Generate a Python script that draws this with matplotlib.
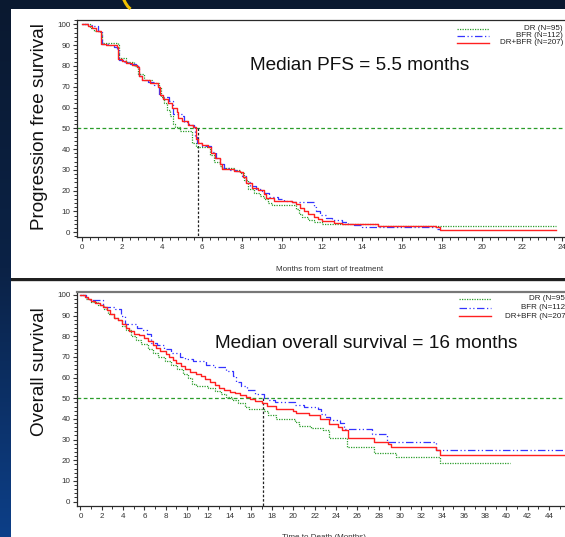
import numpy as np
import matplotlib
matplotlib.use("Agg")
import matplotlib.pyplot as plt
from matplotlib.ticker import MultipleLocator
from matplotlib.colors import LinearSegmentedColormap
from matplotlib.patches import Rectangle

plt.rcParams['font.family'] = ['Liberation Sans', 'DejaVu Sans']

# ---------------------------------------------------------------- data
# Kaplan-Meier step points (time in months, survival in %)
pfs_dr = [(0, 100), (0.4, 98), (0.6, 97), (0.9, 96), (1.0, 91), (1.8, 90), (1.85, 84),
          (2.2, 82), (2.6, 80), (2.8, 76), (3.1, 73), (3.5, 72), (3.85, 70), (3.95, 65),
          (4.1, 62), (4.25, 59), (4.4, 56), (4.55, 52), (4.65, 50.5), (4.9, 48.5),
          (5.5, 43), (5.7, 41), (6.4, 37), (6.6, 34), (6.9, 32), (7.0, 31), (7.6, 30),
          (7.9, 28.5), (8.1, 25), (8.3, 21), (8.6, 19), (8.9, 17.5), (9.1, 16), (9.3, 14),
          (9.5, 13), (10.7, 11), (10.85, 9), (11.0, 7.5), (11.3, 6), (11.6, 5), (12.0, 4),
          (14.8, 3), (23.7, 3)]
pfs_bfr = [(0, 100), (0.3, 99.5), (0.5, 99), (0.8, 97), (1.0, 90.5), (1.3, 90), (1.6, 89),
           (1.75, 88), (1.85, 83), (2.1, 82), (2.4, 81), (2.7, 80), (2.85, 75), (3.0, 73),
           (3.3, 72.5), (3.6, 71), (3.85, 66), (4.0, 65), (4.35, 63), (4.55, 57), (5.0, 56),
           (5.1, 53), (5.35, 51.5), (5.6, 50.5), (5.65, 46), (5.75, 43), (6.0, 41.5),
           (6.45, 38.5), (6.7, 35.5), (6.9, 33), (7.1, 31), (7.4, 30), (7.7, 29.5), (8.0, 27),
           (8.2, 24), (8.4, 22.5), (8.7, 21), (9.0, 20), (9.1, 19), (9.35, 17), (9.8, 16),
           (10.1, 15), (10.5, 14.5), (11.6, 12), (11.7, 10), (11.9, 8.5), (12.2, 7),
           (12.5, 6), (13.0, 5), (13.3, 4), (13.6, 3.5), (14.0, 2.5), (17.7, 1.5), (17.9, 1.5)]
pfs_all = [(0, 100), (0.3, 99), (0.5, 98), (0.7, 97), (0.95, 90.5), (1.2, 90), (1.75, 89),
           (1.8, 83.5), (2.0, 82.5), (2.2, 81.5), (2.5, 80.5), (2.75, 79.5), (2.85, 75),
           (3.0, 73), (3.4, 72), (3.8, 70), (3.9, 66), (4.05, 64), (4.3, 62), (4.5, 60),
           (4.75, 58), (4.8, 55), (5.0, 53.5), (5.3, 51.5), (5.55, 50.5), (5.7, 45),
           (5.8, 43), (6.0, 42), (6.3, 41), (6.45, 38), (6.65, 35.5), (6.9, 33), (7.0, 30.5),
           (7.6, 29.5), (7.9, 29), (8.05, 26.5), (8.2, 23.5), (8.5, 21.5), (8.8, 20.5),
           (9.1, 18.5), (9.2, 16.5), (9.6, 15), (10.5, 14.5), (10.7, 13.5), (10.9, 11.5),
           (11.1, 10), (11.3, 9), (11.6, 7.5), (11.8, 6.5), (12.0, 5.5), (12.6, 4.5),
           (13.0, 4), (14.8, 3), (17.7, 2.5), (17.9, 1), (23.7, 1)]

os_dr = [(0, 100), (0.5, 98), (1.0, 96.5), (1.6, 95), (2.2, 93), (2.6, 91), (3.1, 89),
         (3.5, 88), (3.9, 85), (4.3, 83), (4.7, 80), (5.2, 78), (5.7, 76.5), (6.3, 74),
         (6.8, 72), (7.3, 70), (7.9, 68), (8.5, 66), (9.1, 64), (9.6, 62), (10.1, 60),
         (10.5, 57), (10.8, 56), (12.0, 55), (12.6, 53.5), (13.2, 52), (13.7, 50.5),
         (14.2, 49), (14.8, 47.5), (15.4, 46), (15.8, 45), (17.2, 44), (17.6, 42),
         (18.4, 40), (20.1, 38.5), (20.5, 36.5), (21.6, 35.5), (22.8, 34.5), (23.3, 31),
         (25.0, 26.5), (27.6, 23.5), (29.6, 21.5), (33.8, 18.5), (40.3, 18.5)]
os_bfr = [(0, 100), (0.5, 98.5), (0.9, 97.5), (2.1, 94), (3.2, 93), (3.8, 90), (4.2, 86),
          (5.3, 84), (5.8, 83), (6.2, 81), (6.6, 77), (7.2, 76), (7.8, 74), (8.5, 72),
          (9.3, 70), (9.8, 69), (10.6, 68), (11.8, 66), (12.5, 65), (13.7, 63), (14.3, 61),
          (14.6, 58), (15.1, 56), (15.6, 54), (16.4, 52), (17.2, 50), (17.6, 49), (18.3, 48),
          (20.1, 47), (21.0, 46), (22.3, 45), (22.6, 42.5), (23.0, 41), (23.4, 39.5),
          (24.4, 38), (24.7, 35), (27.4, 32.5), (28.8, 29), (33.4, 25), (46, 25)]
os_all = [(0, 100), (0.4, 99), (0.7, 98), (1.0, 97), (1.4, 96), (1.8, 95), (2.1, 94),
          (2.5, 92.5), (2.8, 91), (3.1, 89), (3.5, 88), (3.9, 86), (4.3, 84), (4.6, 82.5),
          (5.0, 81), (5.5, 80.5), (6.0, 79), (6.3, 77.5), (6.8, 76), (7.1, 74.5), (7.5, 73),
          (8.0, 71.5), (8.3, 70), (8.7, 68.5), (9.0, 67), (9.4, 65.5), (9.8, 64), (10.3, 62.5),
          (10.8, 62), (11.3, 61), (11.7, 59.5), (12.2, 58), (12.6, 56.5), (13.0, 55),
          (13.5, 54), (14.0, 53), (14.5, 52.5), (15.0, 51.5), (15.5, 50.5), (15.9, 49.5),
          (16.4, 48.5), (17.0, 47.5), (17.5, 46.5), (18.4, 45), (20.0, 44), (20.2, 43),
          (21.5, 42), (22.5, 40), (23.3, 37.5), (24.2, 36), (24.6, 34.5), (25.1, 31),
          (27.6, 29), (28.9, 28), (29.2, 26.5), (33.4, 25), (33.8, 22.5), (46, 22.5)]

group_labels = ["DR (N=95)", "BFR (N=112)", "DR+BFR (N=207)"]
pfs_median_month = 5.8
os_median_month = 17.15

# ---------------------------------------------------------------- styles
W, H = 565, 537
C_DR, C_BFR, C_ALL = '#2a9d2a', '#3434ff', '#ff2020'
styles = [dict(color=C_DR, lw=0.9, ls=(0, (1, 1))),
          dict(color=C_BFR, lw=0.9, ls=(0, (6, 2, 1, 2, 1, 2))),
          dict(color=C_ALL, lw=1.0, ls='-')]

fig = plt.figure(figsize=(W / 100, H / 100), dpi=100)
fig.patch.set_facecolor('#0b1a33')


def box(left, top, right, bottom):
    return [left / W, 1 - bottom / H, (right - left) / W, (bottom - top) / H]


# backdrop: gradient slide, white panels, yellow arc
bg = fig.add_axes([0, 0, 1, 1], zorder=0)
bg.set_xlim(0, W)
bg.set_ylim(H, 0)
bg.axis('off')
grad = np.linspace(0, 1, 256).reshape(-1, 1)
cmap = LinearSegmentedColormap.from_list('slide', ['#0a1930', '#0b2246', '#0d3f88'])
bg.imshow(grad, extent=[0, W, H, 0], cmap=cmap, aspect='auto')
bg.add_patch(Rectangle((11, 9), W - 11, 269, fc='white', ec='none'))
bg.add_patch(Rectangle((11, 278), W - 11, 2.5, fc='#202020', ec='none'))
bg.add_patch(Rectangle((11, 280.5), W - 11, H - 280.5, fc='white', ec='none'))
bg.add_patch(Rectangle((11, 280.5), W - 11, 1.5, fc='#d8d8d8', ec='none'))
bg.plot([123.5, 125.5, 127.8, 130.5], [-1, 3, 6.5, 9], color='#f0c000', lw=2.2,
        solid_capstyle='butt')


def km(ax, pts, st):
    t = [p[0] for p in pts]
    s = [p[1] for p in pts]
    ax.step(t, s, where='post', **st, zorder=3)


def style_axes(ax, xmaj, xmin):
    ax.set_facecolor('none')
    ax.spines['right'].set_visible(False)
    for sp in ('left', 'bottom', 'top'):
        ax.spines[sp].set_color('#2a2a2a')
        ax.spines[sp].set_linewidth(0.9)
    ax.xaxis.set_major_locator(MultipleLocator(xmaj))
    ax.xaxis.set_minor_locator(MultipleLocator(xmin))
    ax.yaxis.set_major_locator(MultipleLocator(10))
    ax.yaxis.set_minor_locator(MultipleLocator(2))
    ax.tick_params(which='major', length=3, width=0.8, color='#333333',
                   labelsize=5.8, labelcolor='#333333', pad=2)
    ax.tick_params(which='minor', length=2, width=0.7, color='#333333')


# ---------------------------------------------------------------- PFS panel
ax1 = fig.add_axes(box(77.3, 20, 582, 237), zorder=1)
ax1.set_xlim(-0.25, 24.99)
ax1.set_ylim(-2.26, 102.07)
style_axes(ax1, 2, 0.4)
for pts, st in zip([pfs_dr, pfs_bfr, pfs_all], styles):
    km(ax1, pts, st)
ax1.axhline(50, color=C_DR, lw=0.9, ls=(0, (3, 2)), zorder=2)
ax1.plot([pfs_median_month, pfs_median_month], [50, -2.26], color='#222222', lw=0.9,
         ls=(0, (2, 1.5)), zorder=2)
ax1.set_xlabel("Months from start of treatment", fontsize=5.8, color='#333333', labelpad=11)
ax1.text(13.85, 80.4, "Median PFS = 5.5 months", fontsize=13.7, color='#111111',
         ha='center', va='center')

# ---------------------------------------------------------------- OS panel
ax2 = fig.add_axes(box(77.3, 292, 570.4, 505.7), zorder=1)
ax2.set_xlim(-0.3, 46)
ax2.set_ylim(-1.98, 101.45)
style_axes(ax2, 2, 1)
ax2.spines['top'].set_color('#777777')
ax2.spines['top'].set_linewidth(1.6)
for pts, st in zip([os_dr, os_bfr, os_all], styles):
    km(ax2, pts, st)
ax2.axhline(50, color=C_DR, lw=0.9, ls=(0, (3, 2)), zorder=2)
ax2.plot([os_median_month, os_median_month], [50, -1.98], color='#222222', lw=0.9,
         ls=(0, (2, 1.5)), zorder=2)
ax2.set_xlabel("Time to Death (Months)", fontsize=5.8, color='#333333', labelpad=10)
ax2.text(26.8, 76.3, "Median overall survival = 16 months", fontsize=13.7,
         color='#111111', ha='center', va='center')

# ---------------------------------------------------------------- labels and keys
ov = fig.add_axes([0, 0, 1, 1], zorder=5)
ov.set_xlim(0, W)
ov.set_ylim(H, 0)
ov.axis('off')
ov.text(40, 127, "Progression free survival", rotation=90, fontsize=13.6,
        color='#111111', ha='center', va='center')
ov.text(40, 372, "Overall survival", rotation=90, fontsize=13.6,
        color='#111111', ha='center', va='center')


def key(x0, x1, ys, xr):
    for y, lab, st in zip(ys, group_labels, styles):
        ov.plot([x0, x1], [y, y], **st)
        ov.text(xr, y, lab, fontsize=5.8, color='#222222', ha='right', va='center')


key(457, 489, [28.5, 35.5, 42.5], 563)
key(459, 491, [299, 307.5, 316], 568)

fig.savefig("out.png", dpi=100, facecolor=fig.get_facecolor())
